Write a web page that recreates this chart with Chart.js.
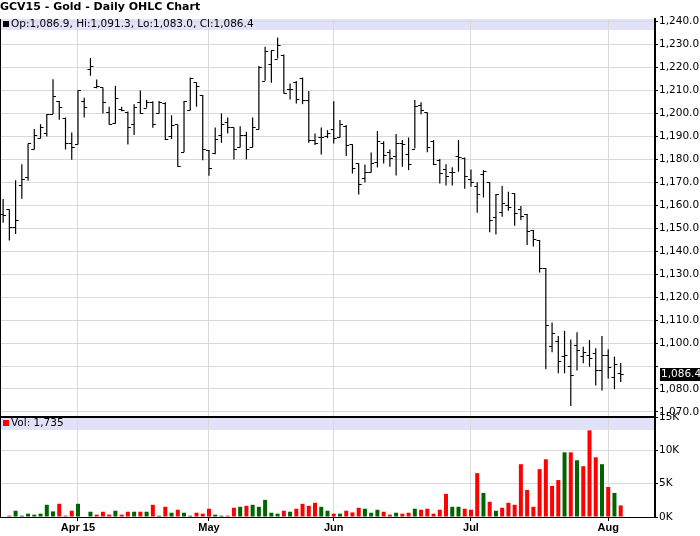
<!DOCTYPE html>
<html>
<head>
<meta charset="utf-8">
<title>GCV15 - Gold - Daily OHLC Chart</title>
<script src="https://cdn.jsdelivr.net/npm/chart.js@4.4.1/dist/chart.umd.min.js"></script>
<style>
  html, body { margin: 0; padding: 0; background: #fff; }
  canvas { display: block; }
</style>
</head>
<body>
<canvas id="ohlcChart" width="700" height="536"></canvas>
<script>
// Trading days, 16 Mar 2015 - 5 Aug 2015
const dates = [
  '2015-03-16','2015-03-17','2015-03-18','2015-03-19','2015-03-20','2015-03-23','2015-03-24','2015-03-25','2015-03-26','2015-03-27','2015-03-30','2015-03-31',
  '2015-04-01','2015-04-02','2015-04-06','2015-04-07','2015-04-08','2015-04-09','2015-04-10','2015-04-13','2015-04-14','2015-04-15','2015-04-16','2015-04-17',
  '2015-04-20','2015-04-21','2015-04-22','2015-04-23','2015-04-24','2015-04-27','2015-04-28','2015-04-29','2015-04-30',
  '2015-05-01','2015-05-04','2015-05-05','2015-05-06','2015-05-07','2015-05-08','2015-05-11','2015-05-12','2015-05-13','2015-05-14','2015-05-15',
  '2015-05-18','2015-05-19','2015-05-20','2015-05-21','2015-05-22','2015-05-26','2015-05-27','2015-05-28','2015-05-29',
  '2015-06-01','2015-06-02','2015-06-03','2015-06-04','2015-06-05','2015-06-08','2015-06-09','2015-06-10','2015-06-11','2015-06-12','2015-06-15',
  '2015-06-16','2015-06-17','2015-06-18','2015-06-19','2015-06-22','2015-06-23','2015-06-24','2015-06-25','2015-06-26','2015-06-29','2015-06-30',
  '2015-07-01','2015-07-02','2015-07-06','2015-07-07','2015-07-08','2015-07-09','2015-07-10','2015-07-13','2015-07-14','2015-07-15','2015-07-16',
  '2015-07-17','2015-07-20','2015-07-21','2015-07-22','2015-07-23','2015-07-24','2015-07-27','2015-07-28','2015-07-29','2015-07-30','2015-07-31',
  '2015-08-03','2015-08-04','2015-08-05'
];

const opens = [
  1156.0,1158.2,1150.4,1168.7,1172.2,1184.6,1189.1,1191.3,1199.7,1205.4,1198.2,1186.9,
  1186.5,1205.3,1219.2,1211.3,1211.3,1200.8,1195.6,1202.1,1200.8,1195.2,1205.0,1202.5,
  1205.1,1200.0,1204.7,1190.1,1195.2,1183.1,1201.4,1213.5,1208.0,
  1184.1,1182.8,1190.8,1196.3,1193.9,1185.2,1190.8,1185.2,1193.0,1214.2,1221.7,
  1223.9,1225.6,1210.8,1213.8,1215.6,1205.8,1188.6,1189.8,1190.3,
  1193.4,1189.8,1194.4,1186.6,1178.2,1171.7,1174.3,1178.9,1187.2,1183.3,1181.4,
  1187.2,1182.3,1184.7,1203.6,1200.4,1188.0,1179.7,1175.6,1174.4,1181.3,1180.4,
  1171.4,1168.3,1173.4,1170.0,1155.0,1157.2,1160.1,1165.2,1158.5,1156.2,1149.2,
  1144.9,1132.7,1098.7,1100.9,1094.4,1090.0,1099.2,1094.4,1094.8,1095.8,1088.3,
  1094.8,1085.4,1086.9
];
const highs = [
  1162.7,1158.2,1170.9,1177.9,1186.9,1193.2,1195.3,1199.7,1214.9,1205.4,1198.2,1191.7,
  1210.1,1206.8,1224.1,1214.8,1211.3,1202.9,1212.0,1202.9,1200.8,1204.0,1210.0,1205.9,
  1205.3,1205.4,1204.8,1199.2,1195.2,1205.4,1215.6,1213.5,1208.0,
  1184.1,1193.9,1200.0,1198.2,1193.9,1194.4,1192.0,1198.2,1220.6,1229.0,1227.5,
  1233.0,1225.6,1213.0,1214.1,1215.6,1209.7,1191.2,1193.9,1192.7,
  1205.3,1197.1,1194.9,1186.6,1178.2,1177.7,1183.0,1192.3,1187.9,1184.3,1191.0,
  1188.4,1189.5,1205.8,1204.9,1200.4,1188.4,1180.1,1177.8,1176.5,1188.4,1180.8,
  1175.6,1170.0,1175.3,1170.0,1164.9,1168.4,1165.9,1165.2,1159.7,1156.2,1149.2,
  1144.9,1132.7,1109.0,1103.1,1105.3,1101.6,1104.7,1098.4,1101.3,1097.7,1103.1,
  1097.3,1094.1,1091.3
];
const lows = [
  1152.4,1144.6,1147.5,1162.8,1170.7,1184.3,1189.1,1189.9,1199.7,1197.2,1184.3,1179.8,
  1186.5,1198.2,1216.4,1210.9,1200.0,1195.2,1195.6,1200.9,1186.5,1190.6,1200.0,1202.5,
  1193.7,1200.0,1188.4,1188.8,1176.8,1183.1,1201.4,1202.9,1179.6,
  1172.8,1182.2,1187.2,1191.2,1179.9,1185.2,1180.0,1185.2,1193.0,1214.2,1213.3,
  1223.9,1208.7,1206.0,1204.3,1204.0,1187.2,1186.2,1182.1,1189.2,
  1186.9,1189.5,1181.4,1173.8,1164.7,1169.9,1174.3,1176.5,1178.2,1176.8,1173.0,
  1176.8,1175.3,1184.7,1199.6,1183.1,1177.5,1169.5,1168.6,1168.6,1174.6,1167.2,
  1168.1,1156.7,1163.4,1148.2,1147.3,1155.0,1157.6,1151.1,1153.6,1142.7,1142.0,
  1130.7,1088.6,1096.0,1086.8,1086.8,1072.6,1088.0,1091.2,1089.7,1081.5,1079.3,
  1084.6,1079.9,1083.0
];
const closes = [
  1155.6,1150.4,1153.5,1171.4,1186.9,1190.5,1194.2,1199.7,1207.4,1202.7,1186.9,1185.4,
  1210.1,1202.7,1220.5,1211.9,1204.8,1195.2,1206.5,1201.5,1194.2,1202.6,1200.0,1205.1,
  1195.5,1205.0,1188.7,1195.0,1176.9,1205.4,1215.6,1211.9,1184.3,
  1176.4,1188.8,1195.2,1194.0,1184.6,1190.8,1184.6,1194.2,1220.3,1227.1,1227.5,
  1229.7,1208.7,1210.8,1206.2,1205.8,1188.6,1186.9,1189.8,1191.5,
  1189.4,1195.2,1186.2,1176.3,1169.2,1174.3,1178.6,1187.9,1181.8,1180.4,1187.2,
  1186.5,1177.8,1203.2,1201.4,1185.2,1178.0,1173.9,1172.7,1174.4,1180.8,1172.8,
  1170.2,1164.7,1175.0,1153.5,1164.9,1160.8,1159.1,1156.8,1155.3,1148.9,1145.2,
  1132.7,1107.9,1104.5,1092.2,1094.8,1086.1,1097.0,1096.3,1093.4,1088.3,1095.0,
  1089.4,1090.9,1086.4
];
const volumes = [
  0,200,940,200,500,350,500,1830,840,1980,200,940,
  1980,0,790,350,790,350,940,350,790,790,790,790,
  1830,200,1530,640,1090,640,200,640,500,
  1240,350,200,200,1390,1530,1680,1830,1530,2570,640,
  500,940,790,1240,1980,1680,2130,1530,940,
  500,500,940,690,1390,1240,640,1090,790,350,640,
  500,640,1240,1090,1240,500,1090,3470,1530,1530,1240,
  1090,6580,3610,2280,940,1390,2130,1830,7920,4060,1530,
  7180,8660,4650,5540,9700,9700,8510,7620,13000,8960,7920,
  4500,3610,1735
];

const priceTicks = [1070,1080,1090,1100,1110,1120,1130,1140,1150,1160,1170,1180,1190,1200,1210,1220,1230,1240];
const volumeTicks = [0, 5000, 10000, 15000];
const monthLabels = ['Apr 15', 'May', 'Jun', 'Jul', 'Aug'];

const UP = '#006400';
const DOWN = '#ff0000';
const GRID = '#d9d9d9';
const BAND = '#e1e1f9';
const AXIS_FONT = { family: 'DejaVu Sans', size: 10.5 };

const last = closes.length - 1;
const monthStarts = dates
  .map((d, i) => (i > 0 && d.slice(5, 7) !== dates[i - 1].slice(5, 7)) ? i : -1)
  .filter(i => i >= 0);
const volColors = closes.map((c, i) => (i === 0 || c >= closes[i - 1]) ? UP : DOWN);
const fmtPrice = v => v.toLocaleString('en-US', { minimumFractionDigits: 1, maximumFractionDigits: 1 });

// open tick on the left, close tick on the right of each high-low bar
const ohlcTicks = {
  id: 'ohlcTicks',
  afterDatasetsDraw(chart) {
    const { ctx, scales: { x, y } } = chart;
    ctx.save();
    ctx.strokeStyle = '#000';
    ctx.lineWidth = 1;
    ctx.beginPath();
    opens.forEach((o, i) => {
      const px = x.getPixelForValue(i);
      const yo = Math.round(y.getPixelForValue(o)) + 0.5;
      const yc = Math.round(y.getPixelForValue(closes[i])) + 0.5;
      ctx.moveTo(px - 3, yo);
      ctx.lineTo(px, yo);
      ctx.moveTo(px, yc);
      ctx.lineTo(px + 3, yc);
    });
    ctx.stroke();
    ctx.restore();
  }
};

// header bands, panel divider, left border, last price box
const panelDecor = {
  id: 'panelDecor',
  beforeDraw(chart) {
    const { ctx, chartArea: a, scales: { y, yVol } } = chart;
    ctx.save();
    ctx.fillStyle = BAND;
    ctx.fillRect(a.left, y.top, a.right - a.left, 11);
    ctx.fillRect(a.left, yVol.top, a.right - a.left, 13);
    ctx.restore();
  },
  afterDraw(chart) {
    const { ctx, chartArea: a, scales: { y, yVol } } = chart;
    ctx.save();
    ctx.fillStyle = '#000';
    ctx.fillRect(a.left, yVol.top - 1, a.right - a.left, 2);
    ctx.fillRect(a.left, a.top, 1, a.bottom - a.top);

    ctx.font = '10.5px "DejaVu Sans"';
    ctx.textBaseline = 'middle';
    ctx.fillRect(3, y.top + 2, 6, 6);
    ctx.fillText(`Op:${fmtPrice(opens[last])}, Hi:${fmtPrice(highs[last])}, Lo:${fmtPrice(lows[last])}, Cl:${fmtPrice(closes[last])}`, 11, y.top + 5.5);
    ctx.fillStyle = DOWN;
    ctx.fillRect(3, yVol.top + 3, 6, 6);
    ctx.fillStyle = '#000';
    ctx.fillText(`Vol: ${volumes[last].toLocaleString('en-US')}`, 11, yVol.top + 6.5);

    const yl = Math.round(y.getPixelForValue(closes[last]));
    ctx.fillRect(a.right + 5, yl - 6, 45, 13);
    ctx.fillStyle = '#fff';
    ctx.fillText(fmtPrice(closes[last]), a.right + 6, yl + 0.5);
    ctx.restore();
  }
};

const ctx = document.getElementById('ohlcChart').getContext('2d');
const ohlcChart = new Chart(ctx, {
  type: 'bar',
  data: {
    datasets: [
      {
        label: 'Range',
        data: dates.map((d, i) => ({ x: i, y: [lows[i], highs[i]] })),
        yAxisID: 'y',
        backgroundColor: '#000',
        barThickness: 1.2,
        inflateAmount: 0,
        grouped: false
      },
      {
        label: 'Volume',
        data: dates.map((d, i) => ({ x: i, y: volumes[i] })),
        yAxisID: 'yVol',
        backgroundColor: volColors,
        barThickness: 4,
        inflateAmount: 0,
        grouped: false
      }
    ]
  },
  options: {
    responsive: false,
    animation: false,
    layout: { padding: 0 },
    plugins: {
      legend: { display: false },
      tooltip: { enabled: false },
      title: {
        display: true,
        text: 'GCV15 - Gold - Daily OHLC Chart',
        align: 'start',
        color: '#000',
        font: { family: 'DejaVu Sans', size: 11, weight: 'bold', lineHeight: 1.2 },
        padding: { top: 1, bottom: 4.8 }
      }
    },
    scales: {
      x: {
        type: 'linear',
        min: -0.5,
        max: 104.5,
        offset: false,
        afterBuildTicks: s => { s.ticks = monthStarts.map(v => ({ value: v })); },
        afterFit: s => { s.height = 19; },
        ticks: {
          autoSkip: false,
          maxRotation: 0,
          padding: 0,
          color: '#000',
          font: { family: 'Liberation Sans', size: 11, weight: 'bold' },
          callback: (v, i) => monthLabels[i]
        },
        grid: { color: GRID, offset: false, tickColor: '#000', tickLength: 4 },
        border: { color: '#000', width: 1 }
      },
      y: {
        position: 'right',
        stack: 'panes',
        stackWeight: 398,
        min: 1067.8,
        max: 1241.1,
        afterBuildTicks: s => { s.ticks = priceTicks.map(v => ({ value: v })); },
        afterFit: s => { s.width = 45; },
        ticks: {
          autoSkip: false,
          padding: 1,
          color: '#000',
          font: AXIS_FONT,
          callback: v => Math.abs(v - closes[last]) < 4 ? '' : fmtPrice(v)
        },
        grid: { color: GRID, tickColor: '#000', tickLength: 3 },
        border: { color: '#000', width: 2 }
      },
      yVol: {
        position: 'right',
        stack: 'panes',
        stackWeight: 100,
        min: 0,
        max: 15000,
        afterBuildTicks: s => { s.ticks = volumeTicks.map(v => ({ value: v })); },
        afterFit: s => { s.width = 45; },
        ticks: {
          autoSkip: false,
          padding: 1,
          color: '#000',
          font: AXIS_FONT,
          callback: v => (v / 1000) + 'K'
        },
        grid: { color: GRID, tickColor: '#000', tickLength: 3 },
        border: { color: '#000', width: 2 }
      }
    }
  },
  plugins: [ohlcTicks, panelDecor]
});
</script>
</body>
</html>
